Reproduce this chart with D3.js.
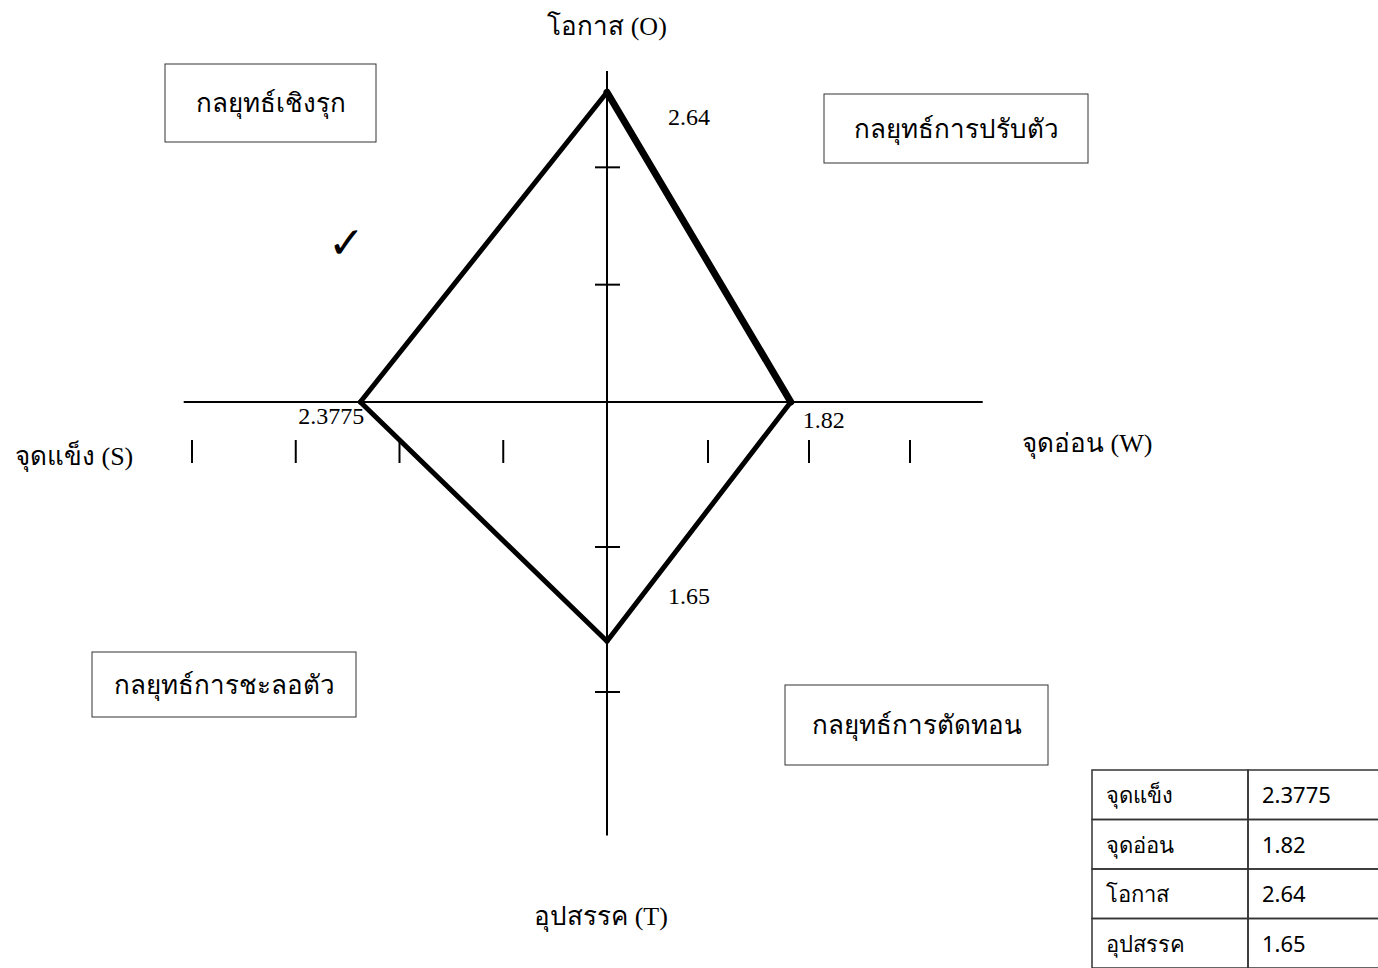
<!DOCTYPE html>
<html>
<head>
<meta charset="utf-8">
<script src="https://cdn.jsdelivr.net/npm/d3@7"></script>
<style>
  body { margin: 0; background: #fff; }
  svg { display: block; }
</style>
</head>
<body>
<svg id="chart" width="1378" height="968"></svg>
<script>
// SWOT scores
const factors = ["จุดแข็ง", "จุดอ่อน", "โอกาส", "อุปสรรค"]
const scores = [2.3775, 1.82, 2.64, 1.65]
const axisTitles = ["จุดแข็ง (S)", "จุดอ่อน (W)", "โอกาส (O)", "อุปสรรค (T)"]
const strategies = ["กลยุทธ์เชิงรุก", "กลยุทธ์การปรับตัว", "กลยุทธ์การชะลอตัว", "กลยุทธ์การตัดทอน"]
const xTicks = [-4, -3, -2, -1, 1, 2, 3]
const yTicks = [-2, -1, 1, 2]

const width = 1378,
    height = 968
const serif = "'Liberation Serif', 'Times New Roman', serif"
const sans = "'Noto Sans', 'DejaVu Sans', sans-serif"

const svg = d3.select('#chart')

// S is to the left, W to the right
const x = d3.scaleLinear()
    .domain([-4, 0, 3])
    .range([192, 607, 910])

// the drawing is stretched differently above and below the origin
const y = d3.scaleLinear()
    .domain([-3, 0, 3])
    .range([837, 402, 50])

const [S, W, O, T] = scores
const pts = [
    [-S, 0],
    [0, O],
    [W, 0],
    [0, -T]
]

// axes
svg.append('line')
    .attr('x1', x(-4.08)).attr('x2', x(3.72))
    .attr('y1', y(0)).attr('y2', y(0))
    .attr('stroke', 'black').attr('stroke-width', 2)
svg.append('line')
    .attr('x1', x(0)).attr('x2', x(0))
    .attr('y1', y(2.82)).attr('y2', y(-2.99))
    .attr('stroke', 'black').attr('stroke-width', 2)

// ticks of the vertical axis
svg.append('g').selectAll('line')
    .data(yTicks)
    .enter()
    .append('line')
    .attr('x1', x(0) - 12).attr('x2', x(0) + 13)
    .attr('y1', d => y(d)).attr('y2', d => y(d))
    .attr('stroke', 'black').attr('stroke-width', 2)

// bars under the horizontal axis
svg.append('g').selectAll('line')
    .data(xTicks)
    .enter()
    .append('line')
    .attr('x1', d => x(d)).attr('x2', d => x(d))
    .attr('y1', y(0) + 38).attr('y2', y(0) + 61)
    .attr('stroke', 'black').attr('stroke-width', 2)

// the diamond, one edge at a time
const edges = d3.range(4).map(i => [pts[i], pts[(i + 1) % 4]])
svg.append('g').selectAll('line')
    .data(edges)
    .enter()
    .append('line')
    .attr('x1', d => x(d[0][0])).attr('y1', d => y(d[0][1]))
    .attr('x2', d => x(d[1][0])).attr('y2', d => y(d[1][1]))
    .attr('stroke', 'black')
    .attr('stroke-width', (d, i) => i === 1 ? 7 : 5)
    .attr('stroke-linecap', 'round')

// value labels
const valueLabels = [
    { t: S, px: x(-S) - 62, py: y(0) + 22 },
    { t: W, px: x(W) + 12, py: y(0) + 26 },
    { t: O, px: x(0) + 61, py: y(O) + 33 },
    { t: T, px: x(0) + 61, py: y(-T) - 37 }
]
svg.append('g').selectAll('text')
    .data(valueLabels)
    .enter()
    .append('text')
    .attr('x', d => d.px).attr('y', d => d.py)
    .attr('font-family', serif).attr('font-size', 24)
    .text(d => d.t)

// axis titles
const titlePos = [
    { px: 15, py: 465, anchor: 'start' },
    { px: 1022, py: 452, anchor: 'start' },
    { px: x(0), py: 35, anchor: 'middle' },
    { px: x(0) - 6, py: 925, anchor: 'middle' }
]
svg.append('g').selectAll('text')
    .data(axisTitles)
    .enter()
    .append('text')
    .attr('x', (d, i) => titlePos[i].px).attr('y', (d, i) => titlePos[i].py)
    .attr('text-anchor', (d, i) => titlePos[i].anchor)
    .attr('font-family', serif).attr('font-size', 26)
    .text(d => d)

// strategy boxes
const boxes = [
    { x0: 165, y0: 64, w: 211, h: 78 },
    { x0: 824, y0: 94, w: 264, h: 69 },
    { x0: 92, y0: 652, w: 264, h: 65 },
    { x0: 785, y0: 685, w: 263, h: 80 }
]
const box = svg.append('g').selectAll('g')
    .data(strategies)
    .enter()
    .append('g')
box.append('rect')
    .attr('x', (d, i) => boxes[i].x0).attr('y', (d, i) => boxes[i].y0)
    .attr('width', (d, i) => boxes[i].w).attr('height', (d, i) => boxes[i].h)
    .attr('fill', 'white').attr('stroke', '#333').attr('stroke-width', 1)
box.append('text')
    .attr('x', (d, i) => boxes[i].x0 + boxes[i].w / 2)
    .attr('y', (d, i) => boxes[i].y0 + boxes[i].h / 2 + 9)
    .attr('text-anchor', 'middle')
    .attr('font-family', serif).attr('font-size', 26)
    .text(d => d)

// check mark on the chosen strategy
svg.append('text')
    .attr('x', 328).attr('y', 258)
    .attr('font-family', "'DejaVu Sans', sans-serif").attr('font-size', 44)
    .attr('font-weight', 'bold')
    .text('✓')

// score table
const tx = 1092, colW = [156, 140], rowH = 49.5, ty = 770
const rows = svg.append('g').selectAll('g')
    .data(factors)
    .enter()
    .append('g')
    .attr('transform', (d, i) => `translate(${tx}, ${ty + i * rowH})`)
rows.append('rect')
    .attr('width', colW[0]).attr('height', rowH)
    .attr('fill', 'none').attr('stroke', '#333').attr('stroke-width', 1.5)
rows.append('rect')
    .attr('x', colW[0])
    .attr('width', colW[1]).attr('height', rowH)
    .attr('fill', 'none').attr('stroke', '#333').attr('stroke-width', 1.5)
rows.append('text')
    .attr('x', 14).attr('y', 33)
    .attr('font-family', sans).attr('font-size', 22)
    .text(d => d)
rows.append('text')
    .attr('x', colW[0] + 14).attr('y', 33)
    .attr('font-family', sans).attr('font-size', 22)
    .text((d, i) => scores[i])
</script>
</body>
</html>
